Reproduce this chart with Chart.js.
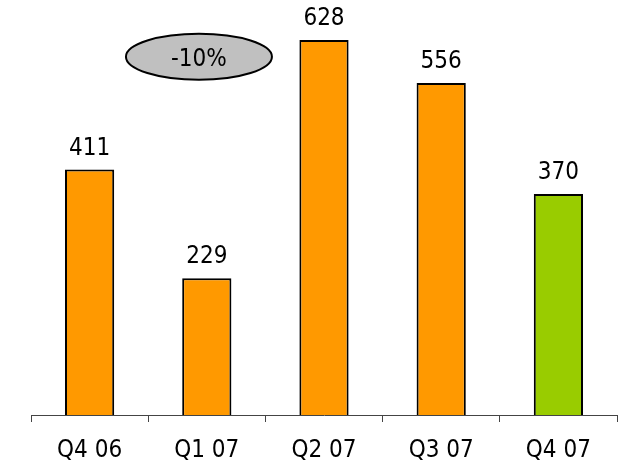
<!DOCTYPE html>
<html>
<head>
<meta charset="utf-8">
<style>
  html, body { margin: 0; padding: 0; background: #fff; }
  canvas { display: block; }
</style>
</head>
<body>
<canvas id="chart" width="623" height="465"></canvas>
<script src="https://cdn.jsdelivr.net/npm/chart.js"></script>
<script>
  var quarters = ["Q4 06", "Q1 07", "Q2 07", "Q3 07", "Q4 07"];
  var values = [411, 229, 628, 556, 370];
  var barColors = ["#FF9900", "#FF9900", "#FF9900", "#FF9900", "#99CC00"];
  var changeLabel = "-10%";

  var fontName = "'DejaVu Sans Condensed', 'Liberation Sans', sans-serif";

  // value labels above the bars
  var valueLabels = {
    id: "valueLabels",
    afterDatasetsDraw: function (chart) {
      var ctx = chart.ctx;
      var meta = chart.getDatasetMeta(0);
      ctx.save();
      ctx.font = "24px " + fontName;
      ctx.fillStyle = "#000";
      ctx.textAlign = "center";
      ctx.textBaseline = "alphabetic";
      meta.data.forEach(function (bar, i) {
        ctx.fillText(values[i], bar.x, bar.y - 15);
      });
      ctx.restore();
    },
  };

  // grey ellipse with the change figure
  var changeBubble = {
    id: "changeBubble",
    afterDraw: function (chart) {
      var ctx = chart.ctx;
      var cx = chart.scales.x.getPixelForValue(0.933);
      var cy = chart.scales.y.getPixelForValue(600);
      ctx.save();
      ctx.beginPath();
      ctx.ellipse(cx, cy, 73, 23, 0, 0, Math.PI * 2);
      ctx.fillStyle = "#C0C0C0";
      ctx.fill();
      ctx.lineWidth = 2;
      ctx.strokeStyle = "#000";
      ctx.stroke();
      ctx.font = "24px " + fontName;
      ctx.fillStyle = "#000";
      ctx.textAlign = "center";
      ctx.textBaseline = "alphabetic";
      ctx.fillText(changeLabel, cx, cy + 9);
      ctx.restore();
    },
  };

  new Chart(document.getElementById("chart").getContext("2d"), {
    type: "bar",
    data: {
      labels: quarters,
      datasets: [
        {
          data: values,
          backgroundColor: barColors,
          borderColor: "#000",
          borderWidth: 2,
          barPercentage: 0.42,
          categoryPercentage: 1,
        },
      ],
    },
    options: {
      responsive: false,
      animation: false,
      layout: { padding: { left: 31, right: 6, top: 40, bottom: 0 } },
      plugins: { legend: { display: false }, tooltip: { enabled: false } },
      scales: {
        x: {
          afterFit: function (scale) {
            scale.height = 50;
          },
          border: { color: "#444", width: 1 },
          grid: { offset: true, drawOnChartArea: false, color: "#444", tickLength: 7 },
          ticks: { color: "#000", padding: 14, font: { family: fontName, size: 24 } },
        },
        y: {
          display: false,
          min: 0,
          max: 628,
        },
      },
    },
    plugins: [valueLabels, changeBubble],
  });
</script>
</body>
</html>
